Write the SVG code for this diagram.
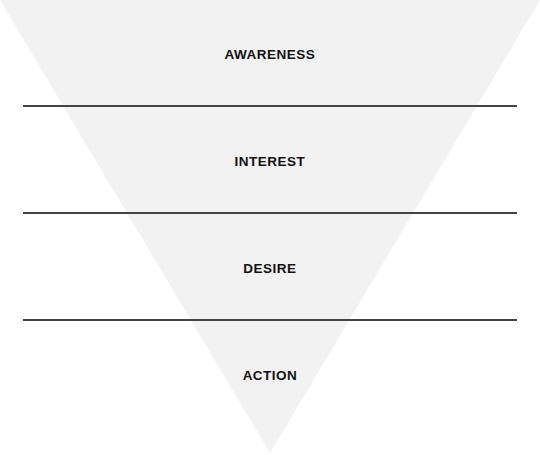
<svg xmlns="http://www.w3.org/2000/svg" width="540" height="455" viewBox="0 0 540 455">
<style>
.lbl{font-family:"Liberation Sans",Arial,sans-serif;font-size:13.5px;font-weight:bold;fill:#111;text-anchor:middle;letter-spacing:0.5px}
.sep{stroke:#444;stroke-width:2;fill:none}
</style>
<rect width="540" height="455" fill="#fff"/>
<polygon id="funnel" points="0,0 540,0 270,453" fill="#f2f2f2"/>
<g id="connectors">
<line class="sep" x1="23" y1="106" x2="517" y2="106"/>
<line class="sep" x1="23" y1="213" x2="517" y2="213"/>
<line class="sep" x1="23" y1="320" x2="517" y2="320"/>
</g>
<g id="awareness"><text class="lbl" x="270" y="58.5">AWARENESS</text></g>
<g id="interest"><text class="lbl" x="270" y="165.5">INTEREST</text></g>
<g id="desire"><text class="lbl" x="270" y="272.5">DESIRE</text></g>
<g id="action"><text class="lbl" x="270" y="379.5">ACTION</text></g>
</svg>
